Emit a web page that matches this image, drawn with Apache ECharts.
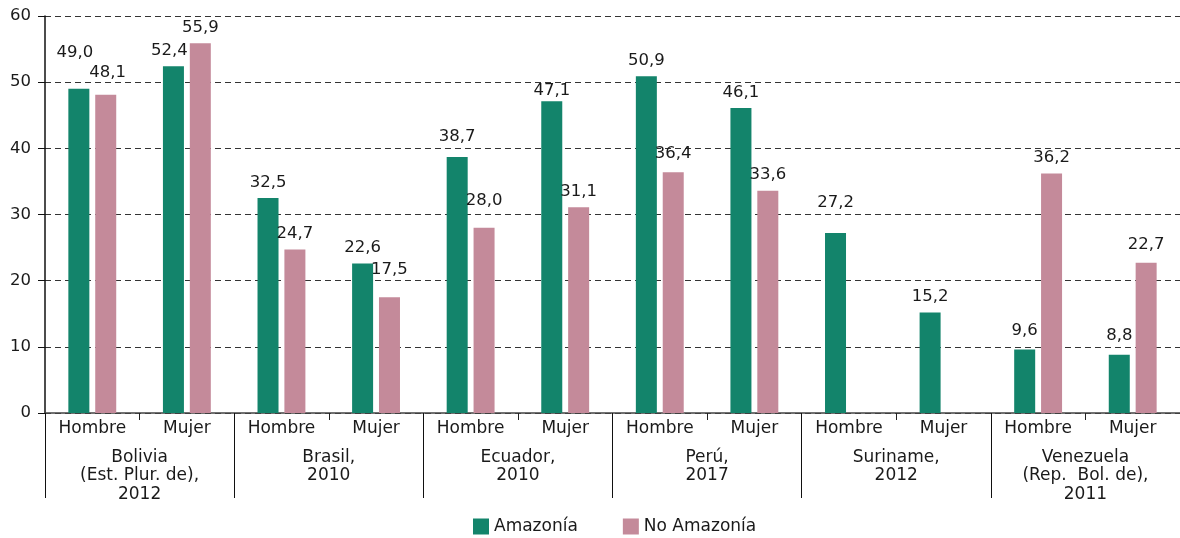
<!DOCTYPE html>
<html>
<head>
<meta charset="utf-8">
<script src="https://cdn.jsdelivr.net/npm/echarts@6/dist/echarts.min.js"></script>
<style>
  html, body { margin: 0; padding: 0; background: #fff; }
  #chart { width: 1180px; height: 538px; }
</style>
</head>
<body>
<div id="chart"></div>
<script>
  // datos
  const countries = ['Bolivia\n(Est. Plur. de),\n2012', 'Brasil,\n2010', 'Ecuador,\n2010', 'Perú,\n2017', 'Suriname,\n2012', 'Venezuela\n(Rep.  Bol. de),\n2011']
  const sexes = ['Hombre', 'Mujer']
  const amazonia = [49.0, 52.4, 32.5, 22.6, 38.7, 47.1, 50.9, 46.1, 27.2, 15.2, 9.6, 8.8]
  const noAmazonia = [48.1, 55.9, 24.7, 17.5, 28.0, 31.1, 36.4, 33.6, null, null, 36.2, 22.7]
  const yTicks = [0, 10, 20, 30, 40, 50, 60]

  // desplazamiento manual de etiquetas (como en el original)
  const offA = { 0: [-4, -21], 1: [-4, 0], 4: [0, -5], 5: [0, 5], 8: [0, -15], 10: [0, -3], 11: [0, -4] }
  const offB = { 0: [2, -7], 3: [0, -12], 4: [0, -12], 6: [0, -3], 11: [0, -3] }

  const font = 'DejaVu Sans'
  const txt = '#1a1a1a'

  // categorias unicas: pais|sexo
  const cats = []
  countries.forEach((c, i) => {
    sexes.forEach(s => cats.push(i + '|' + s))
  })

  const fmt = v => v.toFixed(1).replace('.', ',')
  const toData = (arr, offs) => arr.map((v, i) => {
    if (v === null) return '-'
    const item = { value: v }
    if (offs[i]) item.label = { offset: offs[i] }
    return item
  })

  const chart = echarts.init(document.getElementById('chart'))
  const gridPos = { left: 45, right: 0, top: 16, bottom: 125 }

  chart.setOption({
    backgroundColor: '#fff',
    animation: false,
    textStyle: { fontFamily: font },
    grid: [
      Object.assign({}, gridPos),
      Object.assign({}, gridPos)
    ],
    legend: {
      left: 468,
      top: 513,
      itemWidth: 16,
      itemHeight: 16,
      itemGap: 45,
      icon: 'rect',
      textStyle: { fontFamily: font, fontSize: 17, color: txt },
      data: ['Amazonía', 'No Amazonía']
    },
    xAxis: [
      {
        type: 'category',
        gridIndex: 0,
        data: cats,
        axisLine: { lineStyle: { color: '#444', width: 1.5 } },
        axisTick: { show: true, length: 7, lineStyle: { color: '#222' } },
        axisLabel: {
          interval: 0,
          margin: 7,
          fontFamily: font,
          fontSize: 17,
          color: txt,
          formatter: v => v.split('|')[1]
        }
      },
      {
        type: 'category',
        gridIndex: 1,
        position: 'bottom',
        data: countries,
        axisLine: { show: false },
        axisTick: { show: true, length: 85, lineStyle: { color: '#111', width: 1 } },
        axisLabel: {
          interval: 0,
          margin: 35,
          fontFamily: font,
          fontSize: 17,
          lineHeight: 18.5,
          color: txt
        }
      }
    ],
    yAxis: [
      {
        type: 'value',
        gridIndex: 0,
        min: yTicks[0],
        max: yTicks[yTicks.length - 1],
        interval: 10,
        axisLine: { show: true, lineStyle: { color: '#111', width: 1.5 } },
        axisTick: { show: true, length: 7, lineStyle: { color: '#111' } },
        axisLabel: { margin: 14, fontFamily: font, fontSize: 16.5, color: txt },
        splitLine: { show: true, lineStyle: { color: '#333', type: [6, 4], width: 1 } }
      },
      {
        type: 'value',
        gridIndex: 1,
        show: false
      }
    ],
    series: [
      {
        name: 'Amazonía',
        type: 'bar',
        xAxisIndex: 0,
        yAxisIndex: 0,
        barWidth: 21,
        barGap: '28%',
        itemStyle: { color: '#13846b' },
        label: {
          show: true,
          position: 'top',
          distance: 7,
          fontFamily: font,
          fontSize: 16.5,
          color: txt,
          formatter: p => fmt(p.value)
        },
        data: toData(amazonia, offA)
      },
      {
        name: 'No Amazonía',
        type: 'bar',
        xAxisIndex: 0,
        yAxisIndex: 0,
        barWidth: 21,
        barGap: '28%',
        itemStyle: { color: '#c48a9a' },
        label: {
          show: true,
          position: 'top',
          distance: 7,
          fontFamily: font,
          fontSize: 16.5,
          color: txt,
          formatter: p => fmt(p.value)
        },
        data: toData(noAmazonia, offB)
      }
    ]
  })
</script>
</body>
</html>
